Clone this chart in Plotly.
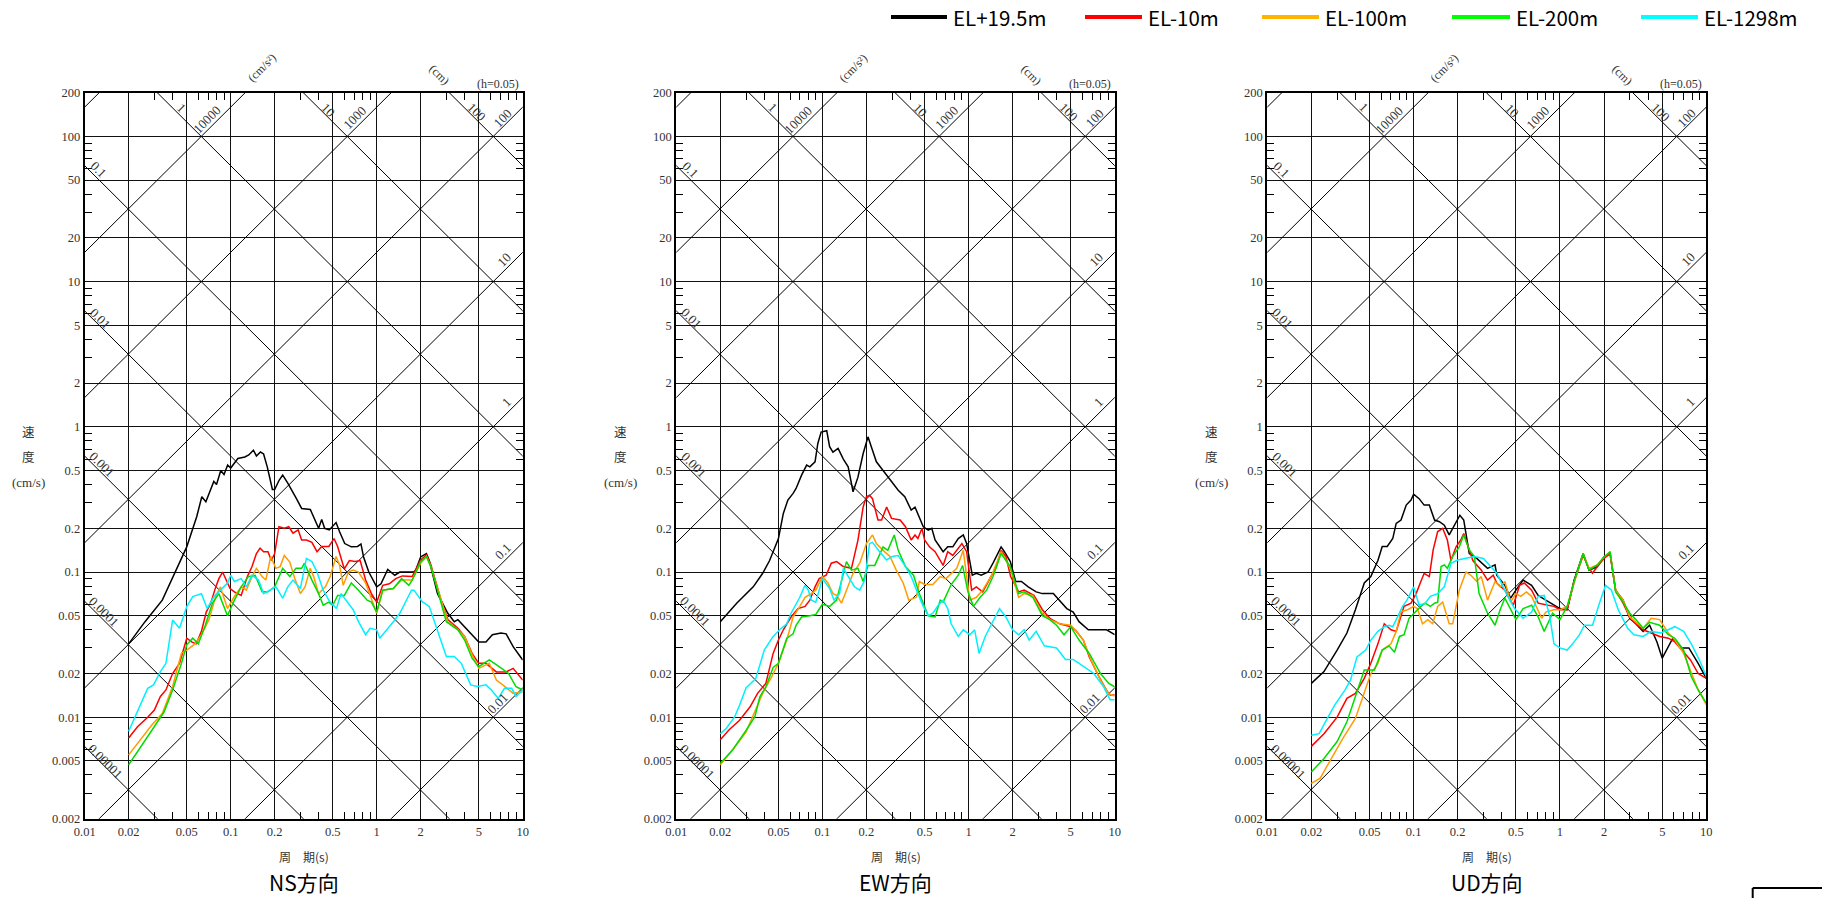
import math
import plotly.graph_objects as go

W, H = 1822, 898

# ---------------- data (period s, pseudo velocity cm/s) ----------------
SERIES_NAMES = ["EL+19.5m", "EL-10m", "EL-100m", "EL-200m", "EL-1298m"]
PANEL_TITLES = ["NS方向", "EW方向", "UD方向"]

ns_black = [(0.02,0.032),(0.0259,0.0455),(0.034,0.064),(0.0446,0.115),(0.05,0.149),(0.0585,0.24),(0.0634,0.33),(0.0676,0.305),(0.0766,0.42),(0.08,0.40),(0.0855,0.50),(0.09,0.47),(0.0953,0.545),(0.1,0.52),(0.112,0.605),(0.125,0.62),(0.133,0.64),(0.143,0.69),(0.15,0.63),(0.16,0.67),(0.168,0.65),(0.178,0.53),(0.193,0.37),(0.2,0.37),(0.215,0.43),(0.227,0.465),(0.246,0.41),(0.282,0.32),(0.306,0.274),(0.351,0.27),(0.37,0.24),(0.4,0.2),(0.42,0.23),(0.44,0.2),(0.473,0.195),(0.527,0.219),(0.556,0.19),(0.604,0.157),(0.67,0.149),(0.74,0.15),(0.78,0.156),(0.813,0.127),(0.883,0.1),(1.0,0.079),(1.07,0.083),(1.19,0.104),(1.33,0.095),(1.44,0.1),(1.79,0.1),(1.85,0.103),(2.0,0.127),(2.19,0.134),(2.29,0.12),(2.61,0.071),(3.07,0.052),(3.4,0.0455),(3.6,0.047),(4.0,0.042),(4.45,0.037),(5.0,0.033),(5.6,0.0329),(6.2,0.037),(7.1,0.038),(7.7,0.0375),(8.6,0.0306),(10,0.0248)]
ns_red = [(0.02,0.0072),(0.023,0.0086),(0.027,0.01),(0.03,0.0112),(0.033,0.0139),(0.036,0.0154),(0.04,0.02),(0.0446,0.0235),(0.05,0.035),(0.054,0.033),(0.058,0.032),(0.063,0.039),(0.068,0.053),(0.073,0.061),(0.079,0.079),(0.083,0.09),(0.088,0.1),(0.093,0.088),(0.099,0.077),(0.106,0.073),(0.118,0.069),(0.13,0.093),(0.14,0.109),(0.15,0.134),(0.159,0.146),(0.168,0.138),(0.18,0.138),(0.19,0.12),(0.2,0.134),(0.214,0.205),(0.233,0.2),(0.25,0.205),(0.267,0.185),(0.29,0.195),(0.306,0.166),(0.33,0.166),(0.36,0.16),(0.39,0.138),(0.42,0.15),(0.47,0.15),(0.51,0.17),(0.54,0.15),(0.6,0.105),(0.65,0.12),(0.71,0.118),(0.77,0.12),(0.84,0.088),(0.92,0.071),(1.0,0.062),(1.1,0.081),(1.22,0.083),(1.35,0.09),(1.5,0.094),(1.75,0.093),(2.0,0.121),(2.19,0.131),(2.35,0.112),(2.76,0.064),(3.07,0.047),(3.6,0.041),(4.0,0.036),(4.5,0.0275),(5.0,0.0235),(5.6,0.0235),(6.6,0.0205),(7.7,0.0205),(8.6,0.0217),(10,0.018)]
ns_orange = [(0.02,0.0055),(0.0245,0.0072),(0.029,0.0089),(0.034,0.0106),(0.04,0.0163),(0.046,0.0276),(0.05,0.029),(0.057,0.032),(0.063,0.037),(0.071,0.047),(0.079,0.068),(0.085,0.079),(0.095,0.056),(0.106,0.068),(0.118,0.079),(0.128,0.075),(0.14,0.093),(0.15,0.106),(0.164,0.093),(0.174,0.088),(0.188,0.128),(0.204,0.106),(0.218,0.109),(0.233,0.13),(0.254,0.117),(0.275,0.09),(0.3,0.071),(0.323,0.079),(0.35,0.106),(0.37,0.093),(0.4,0.071),(0.445,0.079),(0.48,0.093),(0.527,0.128),(0.556,0.112),(0.59,0.081),(0.64,0.1),(0.69,0.103),(0.75,0.1),(0.84,0.084),(0.9,0.07),(1.0,0.052),(1.1,0.075),(1.3,0.077),(1.48,0.088),(1.75,0.088),(2.0,0.115),(2.19,0.128),(2.35,0.109),(2.76,0.064),(3.07,0.0455),(3.6,0.04),(4.0,0.036),(4.5,0.027),(5.0,0.0217),(5.9,0.0235),(6.6,0.018),(7.3,0.0167),(8.6,0.0146),(10,0.015)]
ns_green = [(0.02,0.0047),(0.0245,0.0063),(0.029,0.0082),(0.035,0.0109),(0.04,0.0154),(0.046,0.0235),(0.05,0.0315),(0.055,0.035),(0.06,0.032),(0.067,0.043),(0.075,0.061),(0.083,0.071),(0.095,0.05),(0.106,0.064),(0.118,0.079),(0.132,0.093),(0.147,0.095),(0.164,0.073),(0.18,0.073),(0.2,0.079),(0.227,0.106),(0.254,0.093),(0.28,0.106),(0.306,0.106),(0.32,0.115),(0.36,0.088),(0.4,0.071),(0.43,0.059),(0.47,0.062),(0.5,0.059),(0.54,0.069),(0.6,0.069),(0.67,0.084),(0.75,0.075),(0.86,0.064),(0.92,0.062),(1.0,0.053),(1.1,0.075),(1.3,0.077),(1.48,0.09),(1.66,0.081),(1.75,0.088),(2.0,0.118),(2.19,0.128),(2.35,0.109),(3.0,0.0455),(3.6,0.04),(4.0,0.034),(4.5,0.0255),(5.0,0.0223),(5.9,0.0248),(6.9,0.0223),(8.0,0.02),(9.0,0.0162),(10,0.0154)]
ns_cyan = [(0.02,0.008),(0.0217,0.0096),(0.0245,0.0125),(0.027,0.0158),(0.0296,0.0167),(0.033,0.0206),(0.036,0.0235),(0.04,0.0467),(0.0446,0.041),(0.05,0.0577),(0.055,0.0677),(0.063,0.071),(0.069,0.056),(0.077,0.068),(0.085,0.075),(0.095,0.084),(0.1,0.095),(0.106,0.086),(0.118,0.09),(0.128,0.079),(0.14,0.095),(0.155,0.088),(0.168,0.071),(0.187,0.075),(0.204,0.079),(0.227,0.066),(0.246,0.079),(0.267,0.088),(0.3,0.077),(0.33,0.124),(0.36,0.118),(0.39,0.1),(0.43,0.075),(0.47,0.064),(0.53,0.056),(0.57,0.071),(0.64,0.061),(0.69,0.055),(0.75,0.0455),(0.84,0.037),(0.9,0.041),(1.0,0.04),(1.05,0.035),(1.15,0.039),(1.3,0.0455),(1.44,0.052),(1.6,0.064),(1.73,0.075),(1.8,0.075),(2.05,0.0625),(2.29,0.058),(2.6,0.04),(3.0,0.0262),(3.4,0.0262),(3.8,0.0235),(4.4,0.0167),(4.9,0.0163),(5.6,0.0167),(6.1,0.0154),(6.8,0.0135),(7.5,0.0158),(8.4,0.0158),(9.0,0.0139),(10,0.0154)]

ew_black = [(0.02,0.0454),(0.0258,0.0607),(0.0336,0.079),(0.039,0.098),(0.0435,0.12),(0.05,0.17),(0.054,0.253),(0.058,0.313),(0.063,0.348),(0.066,0.376),(0.072,0.465),(0.078,0.545),(0.082,0.53),(0.089,0.574),(0.093,0.768),(0.098,0.92),(0.107,0.94),(0.112,0.73),(0.118,0.67),(0.128,0.71),(0.139,0.6),(0.15,0.53),(0.162,0.357),(0.175,0.45),(0.19,0.655),(0.205,0.853),(0.216,0.73),(0.234,0.574),(0.26,0.5),(0.29,0.43),(0.33,0.366),(0.366,0.33),(0.405,0.267),(0.43,0.28),(0.45,0.253),(0.49,0.205),(0.53,0.194),(0.56,0.2),(0.59,0.166),(0.67,0.138),(0.72,0.149),(0.78,0.149),(0.85,0.17),(0.92,0.18),(0.97,0.157),(1.06,0.095),(1.13,0.098),(1.22,0.095),(1.36,0.1),(1.47,0.115),(1.67,0.149),(1.76,0.138),(1.93,0.118),(2.1,0.086),(2.3,0.086),(2.56,0.079),(2.9,0.073),(3.2,0.071),(3.8,0.071),(4.2,0.064),(4.7,0.056),(5.2,0.053),(5.7,0.0455),(6.6,0.04),(7.6,0.04),(8.8,0.04),(10,0.037)]
ew_red = [(0.02,0.007),(0.023,0.0082),(0.027,0.0095),(0.032,0.0118),(0.036,0.0146),(0.041,0.0171),(0.046,0.0275),(0.05,0.034),(0.054,0.04),(0.061,0.049),(0.068,0.056),(0.076,0.058),(0.082,0.064),(0.089,0.079),(0.095,0.09),(0.106,0.095),(0.115,0.115),(0.125,0.118),(0.139,0.109),(0.158,0.106),(0.175,0.166),(0.19,0.281),(0.2,0.33),(0.21,0.338),(0.22,0.32),(0.24,0.228),(0.254,0.228),(0.275,0.28),(0.297,0.234),(0.34,0.228),(0.37,0.205),(0.405,0.166),(0.43,0.18),(0.45,0.17),(0.48,0.2),(0.5,0.166),(0.54,0.149),(0.59,0.138),(0.67,0.111),(0.72,0.138),(0.78,0.13),(0.9,0.157),(0.97,0.138),(1.05,0.075),(1.13,0.079),(1.25,0.073),(1.4,0.09),(1.55,0.109),(1.67,0.141),(1.8,0.128),(1.94,0.093),(2.2,0.073),(2.4,0.075),(2.8,0.069),(3.2,0.055),(3.6,0.048),(4.2,0.044),(5.0,0.042),(5.4,0.0397),(6.1,0.034),(6.7,0.026),(7.8,0.019),(8.8,0.0153),(9.3,0.0142),(10,0.0142)]
ew_orange = [(0.02,0.0047),(0.0244,0.006),(0.03,0.0079),(0.034,0.0106),(0.039,0.0146),(0.045,0.019),(0.05,0.0235),(0.057,0.034),(0.063,0.049),(0.07,0.058),(0.076,0.067),(0.084,0.071),(0.09,0.075),(0.1,0.093),(0.109,0.084),(0.118,0.071),(0.125,0.069),(0.135,0.061),(0.146,0.075),(0.162,0.098),(0.18,0.115),(0.2,0.157),(0.22,0.18),(0.234,0.157),(0.26,0.141),(0.29,0.128),(0.32,0.103),(0.357,0.084),(0.39,0.064),(0.44,0.067),(0.46,0.086),(0.5,0.082),(0.57,0.082),(0.64,0.093),(0.7,0.09),(0.83,0.106),(0.92,0.141),(1.02,0.064),(1.13,0.067),(1.25,0.075),(1.44,0.095),(1.67,0.138),(1.93,0.106),(2.2,0.067),(2.4,0.071),(2.75,0.069),(3.2,0.052),(3.6,0.047),(4.2,0.044),(5.0,0.043),(5.4,0.0397),(6.1,0.034),(6.9,0.0247),(8.0,0.018),(9.1,0.0145),(10,0.014)]
ew_green = [(0.02,0.0048),(0.0244,0.006),(0.03,0.0081),(0.0345,0.0101),(0.0373,0.0138),(0.041,0.0162),(0.046,0.022),(0.05,0.0235),(0.057,0.035),(0.063,0.0375),(0.066,0.043),(0.072,0.049),(0.082,0.05),(0.09,0.051),(0.1,0.06),(0.112,0.058),(0.125,0.064),(0.135,0.088),(0.146,0.118),(0.158,0.103),(0.175,0.106),(0.19,0.086),(0.205,0.111),(0.228,0.111),(0.26,0.149),(0.28,0.141),(0.31,0.18),(0.33,0.141),(0.37,0.109),(0.42,0.095),(0.46,0.071),(0.53,0.05),(0.59,0.049),(0.64,0.064),(0.67,0.062),(0.76,0.082),(0.85,0.095),(0.91,0.111),(0.99,0.073),(1.08,0.058),(1.2,0.067),(1.33,0.075),(1.47,0.093),(1.67,0.134),(1.93,0.109),(2.2,0.071),(2.4,0.073),(2.75,0.067),(3.2,0.05),(3.6,0.047),(4.0,0.043),(4.5,0.037),(5.0,0.042),(5.7,0.034),(6.7,0.0275),(8.0,0.02),(9.1,0.0171),(10,0.0162)]
ew_cyan = [(0.02,0.0077),(0.022,0.0084),(0.025,0.01),(0.027,0.012),(0.03,0.0159),(0.035,0.0185),(0.04,0.029),(0.046,0.036),(0.051,0.04),(0.057,0.044),(0.061,0.052),(0.07,0.067),(0.076,0.081),(0.08,0.075),(0.084,0.064),(0.09,0.062),(0.1,0.09),(0.112,0.077),(0.12,0.064),(0.131,0.071),(0.139,0.106),(0.154,0.09),(0.166,0.079),(0.18,0.075),(0.195,0.088),(0.21,0.157),(0.22,0.16),(0.246,0.138),(0.275,0.121),(0.3,0.128),(0.33,0.13),(0.37,0.109),(0.405,0.093),(0.45,0.071),(0.49,0.058),(0.53,0.05),(0.57,0.052),(0.62,0.059),(0.67,0.064),(0.72,0.056),(0.76,0.044),(0.85,0.036),(0.92,0.04),(1.02,0.037),(1.1,0.04),(1.18,0.0275),(1.3,0.036),(1.44,0.044),(1.63,0.056),(1.8,0.049),(2.0,0.04),(2.2,0.037),(2.4,0.04),(2.6,0.034),(2.9,0.039),(3.3,0.031),(4.0,0.03),(4.6,0.025),(5.2,0.025),(5.7,0.0235),(7.2,0.02),(8.4,0.0162),(9.3,0.0132),(10,0.0132)]

ud_black = [(0.02,0.0171),(0.0244,0.0206),(0.03,0.029),(0.035,0.038),(0.04,0.055),(0.046,0.084),(0.051,0.093),(0.057,0.12),(0.061,0.15),(0.066,0.15),(0.072,0.17),(0.076,0.216),(0.082,0.228),(0.089,0.289),(0.096,0.313),(0.1,0.344),(0.109,0.32),(0.118,0.289),(0.128,0.289),(0.139,0.228),(0.15,0.222),(0.162,0.21),(0.175,0.18),(0.19,0.21),(0.207,0.246),(0.22,0.228),(0.24,0.134),(0.27,0.124),(0.3,0.112),(0.32,0.106),(0.36,0.112),(0.37,0.095),(0.42,0.081),(0.46,0.066),(0.5,0.075),(0.56,0.088),(0.64,0.081),(0.71,0.069),(0.8,0.064),(0.91,0.059),(1.0,0.056),(1.12,0.055),(1.25,0.088),(1.44,0.134),(1.58,0.103),(1.8,0.109),(2.0,0.127),(2.2,0.134),(2.4,0.075),(2.7,0.064),(3.0,0.048),(3.3,0.044),(3.7,0.039),(4.1,0.043),(4.6,0.033),(5.0,0.0255),(5.5,0.0305),(5.9,0.035),(6.8,0.03),(7.6,0.03),(8.8,0.0235),(10,0.0185)]
ud_red = [(0.02,0.0063),(0.0244,0.0077),(0.03,0.01),(0.035,0.0135),(0.04,0.0146),(0.046,0.0185),(0.051,0.0235),(0.057,0.032),(0.063,0.044),(0.07,0.04),(0.076,0.039),(0.08,0.0455),(0.086,0.058),(0.096,0.061),(0.104,0.071),(0.112,0.086),(0.118,0.098),(0.128,0.093),(0.136,0.142),(0.146,0.19),(0.158,0.2),(0.17,0.166),(0.18,0.12),(0.195,0.149),(0.21,0.166),(0.22,0.184),(0.234,0.153),(0.254,0.12),(0.29,0.103),(0.32,0.088),(0.35,0.095),(0.37,0.084),(0.42,0.075),(0.48,0.059),(0.53,0.081),(0.57,0.084),(0.64,0.075),(0.71,0.061),(0.83,0.059),(0.91,0.058),(1.0,0.055),(1.12,0.055),(1.25,0.086),(1.44,0.13),(1.58,0.106),(1.67,0.098),(1.8,0.109),(2.0,0.124),(2.2,0.134),(2.4,0.075),(2.7,0.061),(3.0,0.049),(3.3,0.044),(3.7,0.04),(4.2,0.038),(4.8,0.036),(5.5,0.035),(6.1,0.033),(6.8,0.029),(7.8,0.0248),(8.8,0.02),(10,0.0185)]
ud_orange = [(0.02,0.0035),(0.023,0.0038),(0.028,0.0054),(0.033,0.0072),(0.04,0.0098),(0.046,0.0146),(0.051,0.02),(0.057,0.0235),(0.061,0.029),(0.07,0.032),(0.076,0.039),(0.082,0.0533),(0.091,0.055),(0.1,0.058),(0.106,0.056),(0.115,0.044),(0.125,0.047),(0.135,0.044),(0.146,0.058),(0.158,0.062),(0.175,0.044),(0.185,0.044),(0.205,0.075),(0.228,0.1),(0.246,0.095),(0.27,0.086),(0.29,0.093),(0.32,0.064),(0.36,0.086),(0.39,0.079),(0.42,0.086),(0.46,0.062),(0.5,0.071),(0.54,0.068),(0.59,0.073),(0.64,0.068),(0.69,0.058),(0.75,0.048),(0.8,0.053),(0.91,0.055),(1.0,0.055),(1.12,0.058),(1.25,0.084),(1.44,0.134),(1.58,0.106),(1.8,0.112),(2.0,0.127),(2.2,0.138),(2.4,0.075),(2.7,0.064),(3.0,0.049),(3.3,0.045),(3.7,0.041),(4.2,0.048),(4.8,0.047),(5.5,0.038),(6.1,0.034),(7.0,0.0275),(7.9,0.02),(8.8,0.0154),(10,0.0122)]
ud_green = [(0.02,0.0042),(0.0244,0.0052),(0.03,0.0068),(0.035,0.0093),(0.04,0.0139),(0.046,0.0211),(0.054,0.0211),(0.061,0.029),(0.068,0.031),(0.074,0.028),(0.08,0.036),(0.086,0.037),(0.093,0.048),(0.1,0.052),(0.112,0.058),(0.12,0.061),(0.13,0.058),(0.139,0.061),(0.146,0.062),(0.154,0.109),(0.162,0.112),(0.17,0.106),(0.185,0.128),(0.205,0.149),(0.22,0.18),(0.24,0.142),(0.26,0.128),(0.28,0.071),(0.32,0.052),(0.36,0.043),(0.39,0.055),(0.42,0.066),(0.46,0.055),(0.5,0.047),(0.56,0.056),(0.64,0.059),(0.71,0.049),(0.78,0.039),(0.89,0.052),(1.0,0.047),(1.12,0.058),(1.25,0.086),(1.44,0.134),(1.58,0.103),(1.8,0.112),(2.0,0.127),(2.2,0.138),(2.4,0.073),(2.7,0.062),(3.0,0.052),(3.3,0.047),(3.7,0.041),(4.1,0.045),(4.8,0.043),(5.5,0.037),(6.1,0.035),(7.0,0.029),(7.9,0.019),(8.8,0.0154),(10,0.0125)]
ud_cyan = [(0.02,0.0075),(0.0226,0.0077),(0.026,0.01),(0.029,0.0122),(0.034,0.0154),(0.037,0.018),(0.041,0.026),(0.047,0.029),(0.051,0.034),(0.057,0.039),(0.063,0.042),(0.068,0.043),(0.072,0.042),(0.078,0.049),(0.084,0.058),(0.09,0.064),(0.1,0.079),(0.109,0.059),(0.12,0.061),(0.13,0.068),(0.146,0.071),(0.162,0.079),(0.18,0.115),(0.2,0.121),(0.22,0.124),(0.26,0.128),(0.3,0.124),(0.33,0.112),(0.37,0.098),(0.43,0.071),(0.49,0.056),(0.56,0.048),(0.64,0.053),(0.71,0.068),(0.78,0.069),(0.85,0.05),(0.91,0.032),(1.0,0.03),(1.12,0.029),(1.22,0.032),(1.36,0.037),(1.47,0.043),(1.67,0.043),(1.86,0.061),(2.05,0.081),(2.25,0.075),(2.5,0.055),(2.9,0.041),(3.2,0.037),(3.7,0.036),(4.2,0.039),(4.9,0.038),(5.5,0.04),(6.1,0.042),(7.0,0.039),(7.9,0.032),(9.1,0.024),(10,0.019)]

PANEL_DATA = [
    [ns_black, ns_red, ns_orange, ns_green, ns_cyan],
    [ew_black, ew_red, ew_orange, ew_green, ew_cyan],
    [ud_black, ud_red, ud_orange, ud_green, ud_cyan],
]

X_TICKS = [0.01, 0.02, 0.05, 0.1, 0.2, 0.5, 1, 2, 5, 10]
X_TICK_TEXT = ["0.01", "0.02", "0.05", "0.1", "0.2", "0.5", "1", "2", "5", "10"]
X_MINOR = [0.03, 0.04, 0.06, 0.07, 0.08, 0.09, 0.3, 0.4, 0.6, 0.7, 0.8, 0.9, 3, 4, 6, 7, 8, 9]
Y_TICKS = [0.002, 0.005, 0.01, 0.02, 0.05, 0.1, 0.2, 0.5, 1, 2, 5, 10, 20, 50, 100, 200]
Y_TICK_TEXT = ["0.002", "0.005", "0.01", "0.02", "0.05", "0.1", "0.2", "0.5", "1", "2", "5", "10", "20", "50", "100", "200"]
Y_MINOR = [0.003, 0.004, 0.006, 0.007, 0.008, 0.009, 0.03, 0.04, 0.06, 0.07, 0.08, 0.09,
           0.3, 0.4, 0.6, 0.7, 0.8, 0.9, 3, 4, 6, 7, 8, 9, 30, 40, 60, 70, 80, 90]

# displacement (cm) and acceleration (cm/s^2) guide lines
DISP_LINES = [1e-5, 1e-4, 1e-3, 1e-2, 0.1, 1, 10, 100]
ACC_LINES = [0.01, 0.1, 1, 10, 100, 1000, 10000, 100000]
DISP_LABELS = ["0.00001", "0.0001", "0.001", "0.01", "0.1", "1", "10", "100"]
ACC_LABELS = ["0.01", "0.1", "1", "10", "100", "1000", "10000"]

# ---------------- styling / layout ----------------
CURVE_COLORS = ["#000000", "#ff0000", "#ff9c00", "#00dc00", "#00f0ff"]
LEGEND_COLORS = ["#000000", "#ff0000", "#ffb400", "#00ff00", "#00ffff"]
PLOT_X = [(84.7, 522.7), (676.3, 1114.7), (1267.3, 1706.3)]
PLOT_Y = (92.7, 818.7)
SERIF = "Liberation Serif"
CJK = "Noto Sans CJK JP"

# label positions (period, velocity) on the guide lines
DISP_LABEL_POS = [(0.01386, 0.00494), (0.01347, 0.0533), (0.01312, 0.546), (0.01277, 5.59),
                  (0.01243, 58.7), (0.0457, 157), (0.471, 152), (4.9, 147)]
ACC_LABEL_POS = [(6.7, 0.0125), (7.3, 0.138), (7.8, 1.49), (7.5, 14.1), (7.38, 134), (0.71, 134), (0.0689, 130)]

def px(x):
    return x / W

def py(y):
    return 1 - y / H

fig = go.Figure()
layout = dict(width=W, height=H, margin=dict(l=0, r=0, t=0, b=0, pad=0, autoexpand=False),
              paper_bgcolor="white", plot_bgcolor="white", showlegend=False)
annotations = []
shapes = []

def note(x, y, text, font, xref="paper", yref="paper", angle=0, xanchor="center", yanchor="middle"):
    annotations.append(dict(x=x, y=y, xref=xref, yref=yref, text=text, showarrow=False,
                            textangle=angle, font=font, xanchor=xanchor, yanchor=yanchor,
                            borderpad=0))

for i in range(3):
    sfx = "" if i == 0 else str(i + 1)
    xa, ya = "x" + sfx, "y" + sfx
    x0, x1 = PLOT_X[i]
    # guide lines
    for d in DISP_LINES:
        fig.add_trace(go.Scatter(x=[0.005, 20], y=[2 * math.pi * d / 0.005, 2 * math.pi * d / 20],
                                 mode="lines", line=dict(color="black", width=1),
                                 xaxis=xa, yaxis=ya, hoverinfo="skip", showlegend=False))
    for a in ACC_LINES:
        fig.add_trace(go.Scatter(x=[0.005, 20], y=[a * 0.005 / (2 * math.pi), a * 20 / (2 * math.pi)],
                                 mode="lines", line=dict(color="black", width=1),
                                 xaxis=xa, yaxis=ya, hoverinfo="skip", showlegend=False))
    # spectra
    for name, color, pts in zip(SERIES_NAMES, CURVE_COLORS, PANEL_DATA[i]):
        fig.add_trace(go.Scatter(x=[p[0] for p in pts], y=[p[1] for p in pts], mode="lines",
                                 name=name, line=dict(color=color, width=1.5),
                                 xaxis=xa, yaxis=ya, showlegend=False))

    axis_common = dict(type="log", showgrid=True, gridcolor="#111111", gridwidth=1,
                       showline=True, linecolor="black", linewidth=2, mirror="allticks",
                       ticks="", zeroline=False, automargin=False, fixedrange=True,
                       tickfont=dict(family=SERIF, size=12.5, color="#333333"))
    layout["xaxis" + sfx] = dict(axis_common, range=[-2, 1], domain=[px(x0), px(x1)], anchor=ya,
                                 tickvals=X_TICKS, ticktext=X_TICK_TEXT,
                                 minor=dict(tickvals=X_MINOR, ticks="inside", ticklen=7,
                                            tickcolor="black", tickwidth=1, showgrid=False))
    layout["yaxis" + sfx] = dict(axis_common, range=[math.log10(0.002), math.log10(200)],
                                 domain=[py(PLOT_Y[1]), py(PLOT_Y[0])], anchor=xa,
                                 tickvals=Y_TICKS, ticktext=Y_TICK_TEXT,
                                 minor=dict(tickvals=Y_MINOR, ticks="inside", ticklen=7,
                                            tickcolor="black", tickwidth=1, showgrid=False))

    lab_font = dict(family=SERIF, size=13, color="#333333")
    unit_font = dict(family=SERIF, size=12, color="#333333")
    for txt, (t, v) in zip(DISP_LABELS, DISP_LABEL_POS):
        note(math.log10(t), math.log10(v), txt, lab_font, xref=xa, yref=ya, angle=45)
    for txt, (t, v) in zip(ACC_LABELS, ACC_LABEL_POS):
        note(math.log10(t), math.log10(v), txt, lab_font, xref=xa, yref=ya, angle=-45)
    # unit labels above the frame
    note(px(x0 + 177), py(68), "(cm/s²)", unit_font, angle=-45)
    note(px(x0 + 355), py(75), "(cm)", unit_font, angle=45)
    note(px(x1 - 3), py(84), "(h=0.05)", unit_font, xanchor="right")
    # y-axis title (vertical stack)
    for txt, yy in [("速", 431), ("度", 456), ("(cm/s)", 482)]:
        note(px(x0 - 56), py(yy), txt,
             dict(family=CJK if txt != "(cm/s)" else SERIF, size=12.5 if txt != "(cm/s)" else 13,
                  color="#333333"))
    # x-axis title and panel title
    note(px((x0 + x1) / 2), py(856), "周　期(s)", dict(family=CJK, size=12, color="#333333"))
    note(px((x0 + x1) / 2), py(882), PANEL_TITLES[i], dict(family=CJK, size=21, color="black"))

# legend drawn at top right
LEG_LINE_X = [(891, 947), (1085, 1142), (1262, 1319), (1452, 1510), (1641, 1698)]
for name, color, (lx0, lx1) in zip(SERIES_NAMES, LEGEND_COLORS, LEG_LINE_X):
    shapes.append(dict(type="line", xref="paper", yref="paper", x0=px(lx0), x1=px(lx1),
                       y0=py(17), y1=py(17), line=dict(color=color, width=4)))
    note(px(lx1 + 5), py(17), name, dict(family=CJK, size=20.5, color="black"), xanchor="left")

# partial frame at bottom right corner
shapes.append(dict(type="line", xref="paper", yref="paper", x0=px(1752.7), x1=px(1830),
                   y0=py(888), y1=py(888), line=dict(color="black", width=2)))
shapes.append(dict(type="line", xref="paper", yref="paper", x0=px(1752.7), x1=px(1752.7),
                   y0=py(888), y1=py(905), line=dict(color="black", width=2)))

layout["annotations"] = annotations
layout["shapes"] = shapes
fig.update_layout(**layout)

fig.write_html("out.html", config={"displayModeBar": False},
               post_script="document.body.style.margin='0';document.body.style.overflow='hidden';")
